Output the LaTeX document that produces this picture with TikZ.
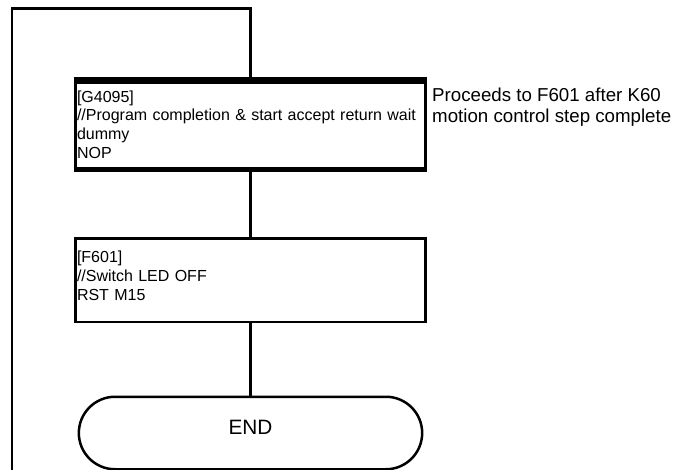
\documentclass[tikz,border=0pt]{standalone}
\usepackage{fontspec}
\setmainfont{Liberation Sans}
\usetikzlibrary{shapes.misc}
\begin{document}
\begin{tikzpicture}[x=1pt,y=-1pt,
	stepbox/.style={draw,line width=2.7pt,outer sep=0pt,minimum width=350.5pt,text width=347pt,inner xsep=1.5pt,inner ysep=0pt,align=left,font=\fontsize{16}{18.9}\selectfont},
	flow/.style={line width=2.3pt},
	note/.style={align=left,inner sep=0pt,font=\fontsize{18.7}{21}\selectfont},
	terminal/.style={draw,line width=2.5pt,outer sep=0pt,rounded rectangle,minimum width=350pt,minimum height=72.5pt,font=\fontsize{20.8}{24}\selectfont,text depth=11pt}]

	\useasboundingbox (0,0) rectangle (679,470);

	\node[stepbox,line width=3.2pt,minimum height=89pt] (g4095) at (250.5,124.7) {[G4095]\\//Program completion \& start accept return wait\\dummy\\NOP};
	\draw[line width=7.3pt,shorten <=-1.6pt,shorten >=-1.6pt] (g4095.north west) -- (g4095.north east);
	\draw[line width=5pt,shorten <=-1.6pt,shorten >=-1.6pt] (g4095.south west) -- (g4095.south east);

	\node[stepbox,minimum height=83.3pt] (f601) at (250.5,280.35) {[F601]\\//Switch LED OFF\\RST M15\rule[-9pt]{0pt}{0pt}};

	\node[terminal] (endterm) at (250.5,433) {END};

	\node[note,anchor=north west] (stepnote) at (432,88) {Proceeds to F601 after K60\\motion control step complete};

	% loop back from the bottom
	\coordinate (loopbot) at (12.2,472);
	\coordinate (looptop) at (12.2,8.5);
	\draw[flow,line width=2.5pt] (loopbot) -- (looptop) -| (g4095.north);

	\draw[flow] (g4095.south) -- (f601.north);
	\draw[flow] (f601.south) -- (endterm.north);

\end{tikzpicture}
\end{document}
